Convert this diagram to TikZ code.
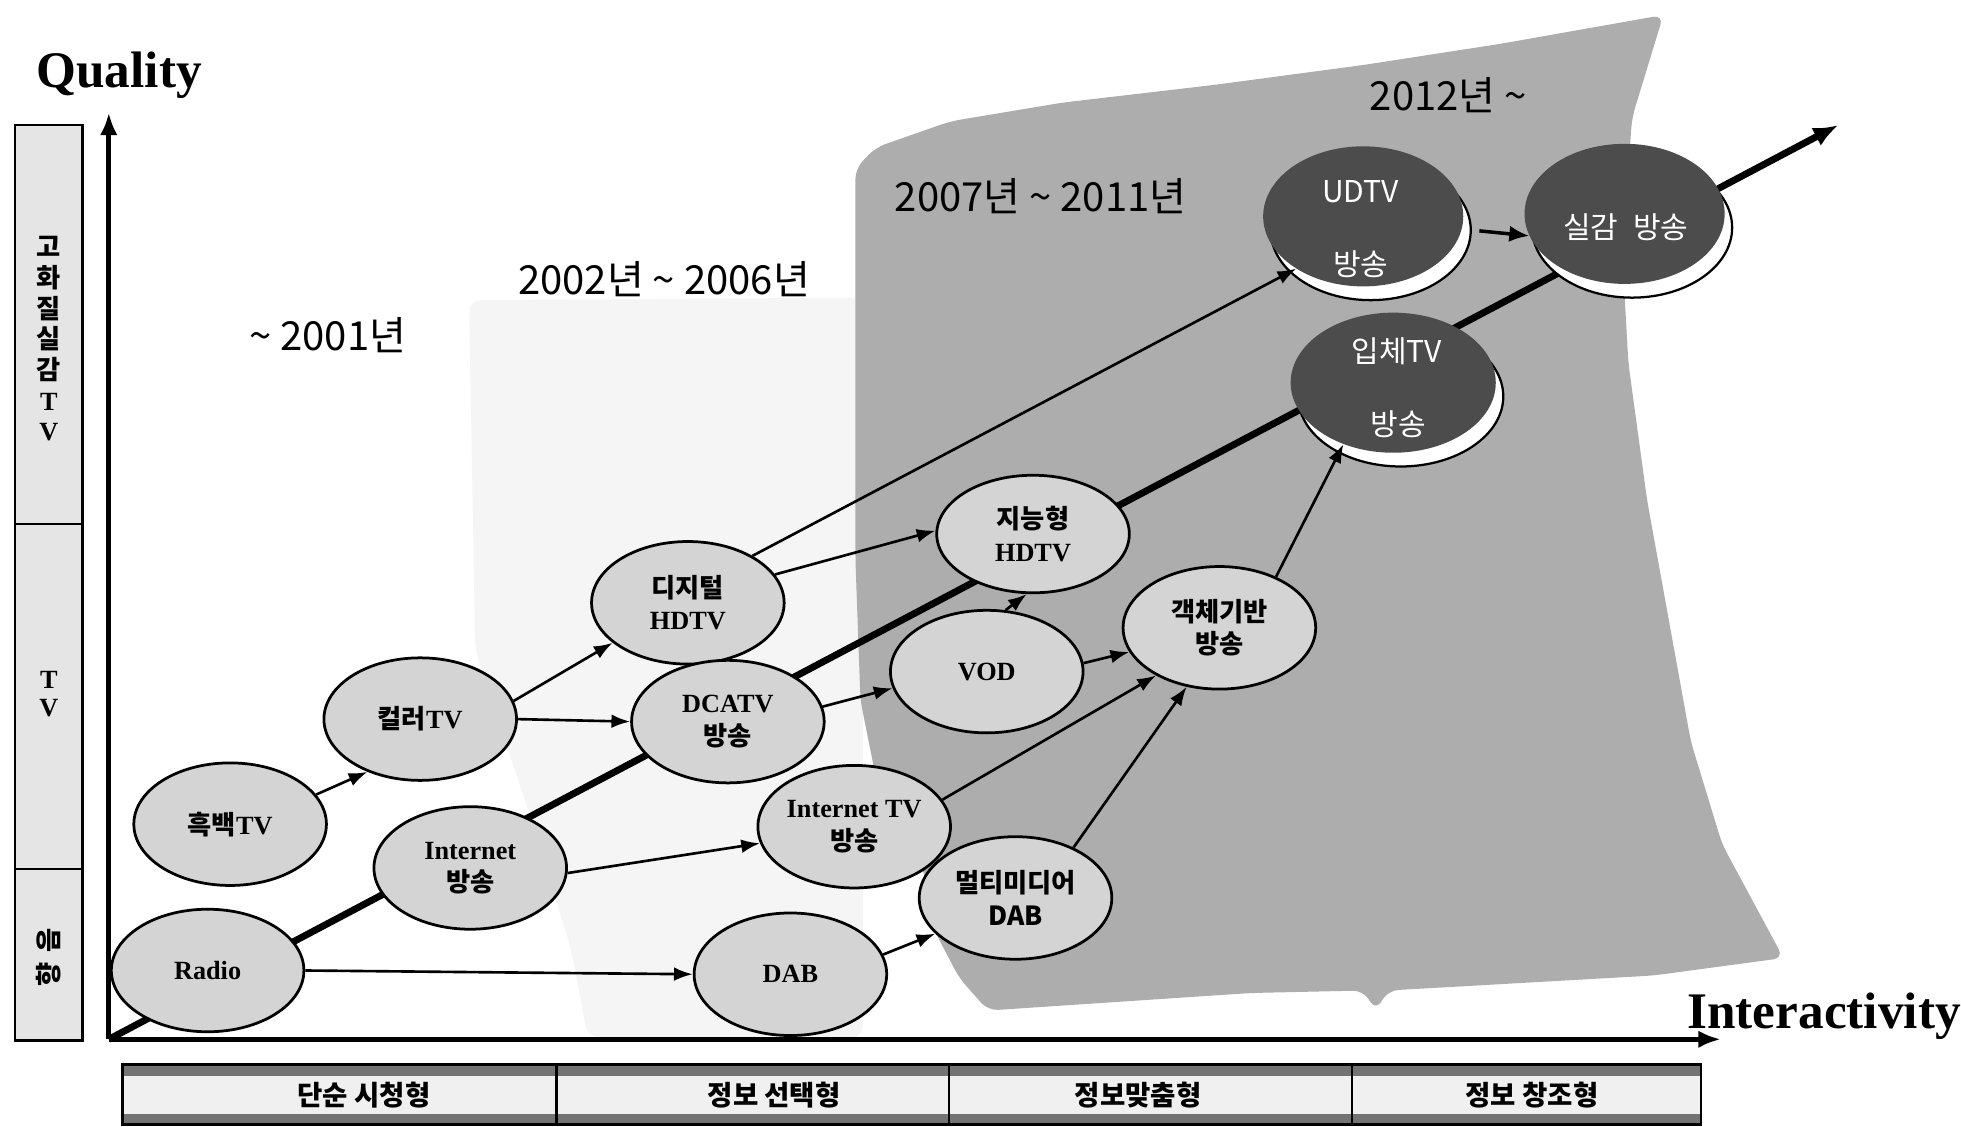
\documentclass[tikz,border=0pt]{standalone}
\usepackage{fontspec}
\setmainfont{Liberation Serif}
\newfontfamily\kr{Noto Sans CJK KR}
\usetikzlibrary{shapes.geometric,arrows.meta}
\newcommand\kor[1]{{\kr\bfseries #1}}
\begin{document}
\begin{tikzpicture}[x=1pt,y=-1pt,
 lnode/.style={ellipse,draw=black,line width=2.2pt,fill=black!17,minimum width=154pt,minimum height=98pt,inner sep=0pt,align=center,font=\fontsize{21}{26}\selectfont},
 dnode/.style={ellipse,fill=black!70,minimum width=160pt,minimum height=112pt,inner sep=0pt},
 dshadow/.style={ellipse,draw=black,line width=1.8pt,fill=white,minimum width=160pt,minimum height=112pt,inner sep=0pt},
 dtext/.style={text=white,font=\kr\fontsize{24}{24}\selectfont,inner sep=0pt},
 yeartext/.style={font=\kr\fontsize{32}{32}\selectfont,inner sep=0pt},
 axislabel/.style={font=\bfseries\fontsize{41}{41}\selectfont,inner sep=0pt},
 arr/.style={line width=2.1pt,-{Latex[length=15pt,width=11pt]}},
 axisline/.style={line width=3.8pt,-{Latex[length=18pt,width=14pt]}},
 coltext/.style={font=\fontsize{21}{24.5}\selectfont,inner sep=0pt,align=center},
 tabtext/.style={font=\kr\bfseries\fontsize{22}{22}\selectfont,inner sep=0pt}
]
\useasboundingbox (0,0) rectangle (1568,901);
\fill[white] (0,0) rectangle (1568,901);

% sparse region (2002-2006)
\fill[black!4, rounded corners=10pt] (375,240) -- (690,238) -- (690,830) -- (470,830) -- (457,760) -- (420,640) -- (393,560) -- (380,520) -- cycle;
% dense region (2007 ~)
\fill[black!32, rounded corners=8pt] (684,135) -- (700,118) -- (760,97) -- (850,82) -- (970,68) -- (1090,52) -- (1200,35) -- (1330,12) -- (1305,94) -- (1297,200) -- (1302,290) -- (1317,400) -- (1352,593) -- (1377,675) -- (1426,766) -- (1322,780) -- (1110,792) -- (1100,808) -- (1090,792) -- (1000,794) -- (790,808) -- (767,782) -- (745,740) -- (740,700) -- (700,620) -- (688,560) -- (684,448) -- cycle;

% year labels
\node[yeartext] (y1) at (262,268) {\textasciitilde{} 2001년};
\node[yeartext] (y2) at (531,223) {2002년 \textasciitilde{} 2006년};
\node[yeartext] (y3) at (832,157) {2007년 \textasciitilde{} 2011년};
\node[yeartext] (y4) at (1158,76) {2012년 \textasciitilde};

% axis labels
\node[axislabel, anchor=base west] (q) at (29,70) {Quality};
\node[axislabel, anchor=base west] (ia) at (1349,822) {Interactivity};

% axes
\coordinate (O) at (87,831);
\coordinate (ytip) at (87,90);
\coordinate (xtip) at (1376,831);
\coordinate (thend) at (1470,100);
\draw[axisline] (O) -- (ytip);
\draw[axisline] (O) -- (xtip);

% main thick trend line
\draw[line width=5.5pt,-{Latex[length=20pt,width=16pt]}] (O) -- (thend);

% left column
\draw[line width=2pt, fill=black!10] (12,100) rectangle (66,832);
\draw[line width=2pt] (12,419) -- (66,419);
\draw[line width=2pt] (12,695) -- (66,695);
\node[coltext] (lc1) at (39,271) {\kor{고}\\\kor{화}\\\kor{질}\\\kor{실}\\\kor{감}\\\textbf{T}\\\textbf{V}};
\node[coltext] (lc2) at (39,555) {\textbf{T}\\[-1.5pt]\textbf{V}};
\node[coltext] (lc3) at (39,752) {\rotatebox{90}{\kor{음}}};
\node[coltext] (lc4) at (39,779) {\rotatebox{90}{\kor{향}}};

% bottom table
\fill[black!6] (98,851) rectangle (1360,899);
\fill[black!55] (98,851) rectangle (1360,860);
\fill[black!55] (98,891) rectangle (1360,899);
\draw[line width=2pt] (98,851) rectangle (1360,899);
\draw[line width=2pt] (445,851) -- (445,899);
\draw[line width=2pt] (759,851) -- (759,899);
\draw[line width=2pt] (1081,851) -- (1081,899);
\node[tabtext] (t1) at (291,876) {단순 시청형};
\node[tabtext] (t2) at (619,876) {정보 선택형};
\node[tabtext] (t3) at (910,876) {정보맞춤형};
\node[tabtext] (t4) at (1225,876) {정보 창조형};

% dark nodes
\node[dshadow] (uds) at (1096,184) {};
\node[dnode] (ud) at (1090,173) {};
\node[dtext] (ud1) at (1088,153) {UDTV};
\node[dtext] (ud2) at (1088,211) {방송};

\node[dshadow] (sgs) at (1305,182) {};
\node[dnode] (sg) at (1299,171) {};
\node[dtext] (sg1) at (1300,182) {실감\hspace{12pt}방송};

\node[dshadow, minimum width=164pt] (ips) at (1120,317) {};
\node[dnode, minimum width=164pt] (ip) at (1114,306) {};
\node[dtext] (ip1) at (1117,281) {입체TV};
\node[dtext] (ip2) at (1118,339) {방송};

% light nodes
\node[lnode] (rd) at (166,776) {\textbf{Radio}};
\node[lnode] (hb) at (184,659) {\kor{흑백}\textbf{TV}};
\node[lnode] (cl) at (336,575) {\kor{컬러}\textbf{TV}};
\node[lnode] (inet) at (376,694) {\textbf{Internet}\\\kor{방송}};
\node[lnode] (dg) at (550,482) {\kor{디지털}\\\textbf{HDTV}};
\node[lnode] (dc) at (582,577) {\textbf{DCATV}\\\kor{방송}};
\node[lnode] (dab) at (632,779) {\textbf{DAB}};
\node[lnode] (itv) at (683,661) {\textbf{Internet TV}\\\kor{방송}};
\node[lnode] (mm) at (812,718) {\kor{멀티미디어}\\\kor{DAB}};
\node[lnode] (vod) at (789,537) {\textbf{VOD}};
\node[lnode, minimum height=94pt] (jn) at (826,427) {\kor{지능형}\\\textbf{HDTV}};
\node[lnode] (gc) at (975,502) {\kor{객체기반}\\\kor{방송}};

% thin arrows
\draw[arr] (hb.19) -- (cl.225);
\draw[arr] (cl.11) -- (dg.208);
\draw[arr] (cl.east) -- (dc.west);
\draw[arr] (rd.east) -- (dab.west);
\draw[arr] (inet.-3) -- (itv.190);
\draw[arr] (dg.18) -- (jn.178);
\draw[arr] (dg.36) -- (ud.218);
\draw[arr] (dc.9) -- (vod.190);
\draw[arr] (vod.73) -- (jn.264);
\draw[arr] (vod.5) -- (gc.195);
\draw[arr] (itv.17) -- (gc.217);
\draw[arr] (dab.12) -- (mm.204);
\draw[arr] (mm.41) -- (gc.241);
\draw[arr] (gc.42) -- (ip.231);
\draw[line width=2.8pt,-{Latex[length=16pt,width=13pt]},shorten <=6pt] (uds.east) -- (sg.193);
\end{tikzpicture}
\end{document}
